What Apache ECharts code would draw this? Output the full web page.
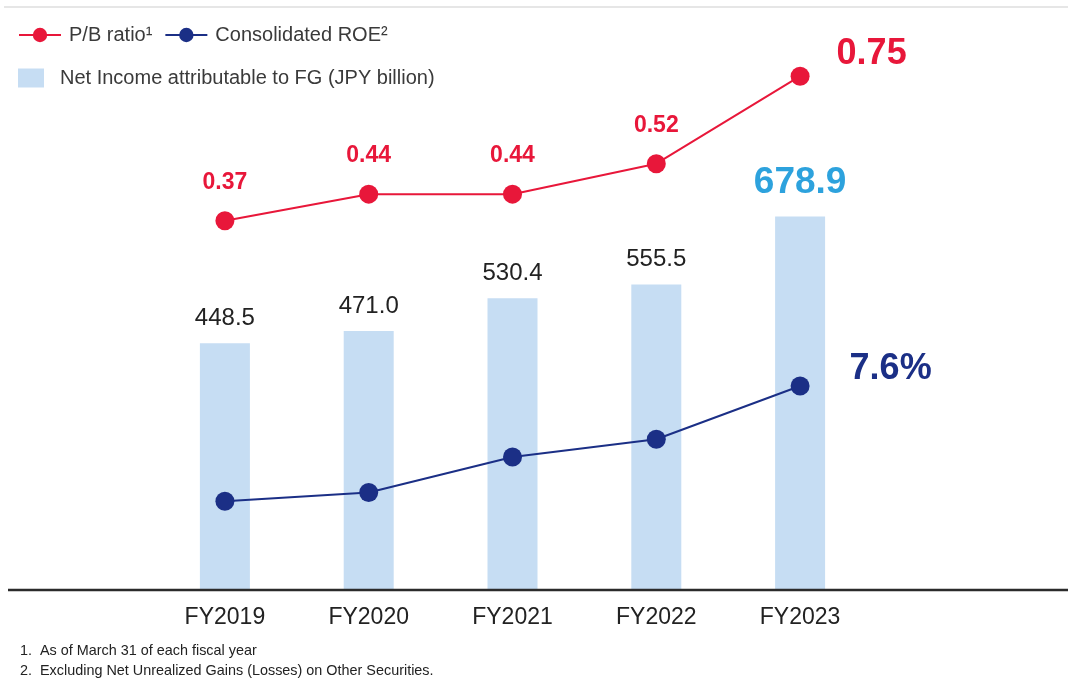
<!DOCTYPE html>
<html>
<head>
<meta charset="utf-8">
<script src="https://cdn.jsdelivr.net/npm/echarts@6/dist/echarts.min.js"></script>
<style>
html,body{margin:0;padding:0;background:#fff;}
#chart{width:1068px;height:682px;}
</style>
</head>
<body>
<div id="chart"></div>
<script>
const categories = ['FY2019', 'FY2020', 'FY2021', 'FY2022', 'FY2023'];
const netIncome = [448.5, 471.0, 530.4, 555.5, 678.9];
const pbRatio = [0.37, 0.44, 0.44, 0.52, 0.75];
const roe = [5.0, 5.2, 6.0, 6.4, 7.6];
const footnotes = ['1.  As of March 31 of each fiscal year', '2.  Excluding Net Unrealized Gains (Losses) on Other Securities.'];

const FONT = '"Liberation Sans", Arial, sans-serif';
const RED = '#e8173a', NAVY = '#1b2f86', BAR = '#c6ddf3', BLUE = '#2da2dd';
const NAME_PB = 'P/B ratio\u00B9', NAME_ROE = 'Consolidated ROE\u00B2', NAME_NI = 'Net Income attributable to FG (JPY billion)';
const last = categories.length - 1;

const chart = echarts.init(document.getElementById('chart'));
chart.setOption({
  animation: false,
  textStyle: { fontFamily: FONT },
  grid: { left: 153, right: 196, top: 40, bottom: 92 },
  legend: [
    { data: [NAME_PB, NAME_ROE], left: 13, top: 20, itemWidth: 42, itemHeight: 18, itemGap: 12,
      textStyle: { fontFamily: FONT, fontSize: 20, color: '#3a3a3a', padding: [0, 0, 0, 3] } },
    { data: [{ name: NAME_NI, icon: 'rect' }], left: 13, top: 63, itemWidth: 26, itemHeight: 19, itemGap: 10,
      textStyle: { fontFamily: FONT, fontSize: 20, color: '#3a3a3a', padding: [0, 0, 0, 11] } }
  ],
  xAxis: {
    type: 'category', data: categories, boundaryGap: true,
    axisLine: { show: false }, axisTick: { show: false },
    axisLabel: { fontFamily: FONT, fontSize: 23, color: '#222', margin: 16 }
  },
  yAxis: [
    { type: 'value', min: 0, max: 1000, show: false },
    { type: 'value', min: -0.6, max: 0.845, show: false },
    { type: 'value', min: 3.0, max: 15.4, show: false }
  ],
  series: [
    {
      name: NAME_NI, type: 'bar', yAxisIndex: 0, barWidth: 50,
      itemStyle: { color: BAR },
      data: netIncome.map((v, i) => ({
        value: v,
        label: i === last
          ? { show: true, position: 'top', distance: 15, fontSize: 37, fontWeight: 'bold', color: BLUE, formatter: p => p.value.toFixed(1) }
          : { show: true, position: 'top', distance: 13, fontSize: 24, color: '#222', formatter: p => p.value.toFixed(1) }
      }))
    },
    {
      name: NAME_PB, type: 'line', yAxisIndex: 1, symbol: 'circle', symbolSize: 19,
      lineStyle: { color: RED, width: 2 }, itemStyle: { color: RED },
      data: pbRatio.map((v, i) => ({
        value: v,
        label: i === last
          ? { show: true, position: 'right', distance: 27, offset: [0, -22], fontSize: 36, fontWeight: 'bold', color: RED, formatter: p => p.value.toFixed(2) }
          : { show: true, position: 'top', distance: 17, fontSize: 23, fontWeight: 'bold', color: RED, formatter: p => p.value.toFixed(2) }
      }))
    },
    {
      name: NAME_ROE, type: 'line', yAxisIndex: 2, symbol: 'circle', symbolSize: 19,
      lineStyle: { color: NAVY, width: 2 }, itemStyle: { color: NAVY },
      data: roe.map((v, i) => ({
        value: v,
        label: i === last
          ? { show: true, position: 'right', distance: 40, offset: [0, -17], fontSize: 36, fontWeight: 'bold', color: NAVY, formatter: p => p.value.toFixed(1) + '%' }
          : { show: false }
      }))
    }
  ],
  graphic: [
    { type: 'line', shape: { x1: 4, y1: 7, x2: 1068, y2: 7 }, style: { stroke: '#e6e6e6', lineWidth: 2 } },
    { type: 'line', z: 10, shape: { x1: 8, y1: 590, x2: 1068, y2: 590 }, style: { stroke: '#2b2b2b', lineWidth: 2.5 } },
    { type: 'text', left: 20, top: 644, style: { text: footnotes[0], font: '14.4px ' + FONT, fill: '#222' } },
    { type: 'text', left: 20, top: 664, style: { text: footnotes[1], font: '14.4px ' + FONT, fill: '#222' } }
  ]
});
</script>
</body>
</html>
